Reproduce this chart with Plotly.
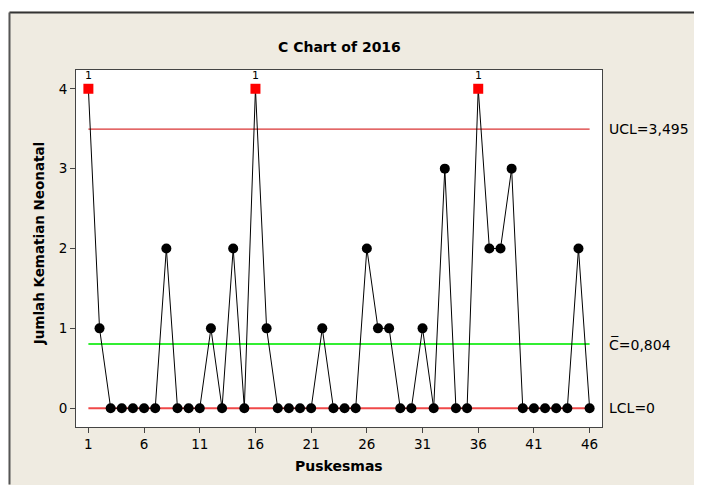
import plotly.graph_objects as go

# ---- data ----
samples = list(range(1, 47))
counts = [4, 1, 0, 0, 0, 0, 0, 2, 0, 0,
          0, 1, 0, 2, 0, 4, 1, 0, 0, 0,
          0, 1, 0, 0, 0, 2, 1, 1, 0, 0,
          1, 0, 3, 0, 0, 4, 2, 2, 3, 0,
          0, 0, 0, 0, 2, 0]
ucl = 3.495
center = 0.804
lcl = 0.0
x_ticks = [1, 6, 11, 16, 21, 26, 31, 36, 41, 46]
y_ticks = [0, 1, 2, 3, 4]
ucl_label = "UCL=3,495"
cl_label = "C\u0305=0,804"
lcl_label = "LCL=0"
title = "C Chart of 2016"
x_title = "Puskesmas"
y_title = "Jumlah Kematian Neonatal"

FONT = "DejaVu Sans, sans-serif"
# page is offset by the 8px body margin; work in figure pixels
OFF = 8
W, H = 702 - OFF, 485 - OFF
ML = 76 - OFF
MR = W - (602 - OFF)
MT = 70 - OFF
MB = H - (427.5 - OFF)
PW = W - ML - MR
PH = H - MT - MB

def px_x(p):  # page x -> paper fraction
    return (p - OFF - ML) / PW

def px_y(p):  # page y -> paper fraction
    return (H - MB - (p - OFF)) / PH

out_x = [s for s, c in zip(samples, counts) if c > ucl or c < lcl]
out_y = [c for c in counts if c > ucl or c < lcl]
in_x = [s for s, c in zip(samples, counts) if not (c > ucl or c < lcl)]
in_y = [c for c in counts if not (c > ucl or c < lcl)]

fig = go.Figure()
xr = [samples[0], samples[-1]]
fig.add_trace(go.Scatter(x=xr, y=[ucl, ucl], mode="lines",
                         line=dict(color="#D00000", width=1), hoverinfo="skip"))
fig.add_trace(go.Scatter(x=xr, y=[center, center], mode="lines",
                         line=dict(color="#33EE33", width=2), hoverinfo="skip"))
fig.add_trace(go.Scatter(x=xr, y=[lcl, lcl], mode="lines",
                         line=dict(color="#F04848", width=2), hoverinfo="skip"))
fig.add_trace(go.Scatter(x=samples, y=counts, mode="lines",
                         line=dict(color="black", width=1)))
fig.add_trace(go.Scatter(x=in_x, y=in_y, mode="markers",
                         marker=dict(color="black", size=10, symbol="circle")))
fig.add_trace(go.Scatter(x=out_x, y=out_y, mode="markers",
                         marker=dict(color="#FF0000", size=10, symbol="square")))

annotations = []
for x, y in zip(out_x, out_y):
    annotations.append(dict(x=x, y=y, xref="x", yref="y", text="1", showarrow=False,
                            yshift=13, font=dict(family=FONT, size=11, color="black")))
for val, lab in [(ucl, ucl_label), (center, cl_label), (lcl, lcl_label)]:
    annotations.append(dict(x=1, y=val, xref="paper", yref="y", text=lab, showarrow=False,
                            xanchor="left", xshift=5, yanchor="middle",
                            font=dict(family=FONT, size=14, color="black")))
annotations.append(dict(x=px_x(339), y=px_y(47), xref="paper", yref="paper", text="<b>" + title + "</b>",
                        showarrow=False, xanchor="center", yanchor="middle",
                        font=dict(family=FONT, size=14, color="black")))
annotations.append(dict(x=px_x(338.5), y=px_y(467), xref="paper", yref="paper", text="<b>" + x_title + "</b>",
                        showarrow=False, xanchor="center", yanchor="middle",
                        font=dict(family=FONT, size=14, color="black")))
annotations.append(dict(x=px_x(39), y=px_y(244.5), xref="paper", yref="paper", text="<b>" + y_title + "</b>",
                        showarrow=False, xanchor="center", yanchor="middle", textangle=-90,
                        font=dict(family=FONT, size=13.5, color="black")))

shapes = [
    # white strips outside the frame
    dict(type="rect", xref="paper", yref="paper", x0=px_x(0), x1=px_x(710), y0=px_y(11.5), y1=px_y(0),
         fillcolor="white", line=dict(width=0), layer="above"),
    dict(type="rect", xref="paper", yref="paper", x0=px_x(0), x1=px_x(8.7), y0=px_y(490), y1=px_y(0),
         fillcolor="white", line=dict(width=0), layer="above"),
    # frame lines
    dict(type="line", xref="paper", yref="paper", x0=px_x(9.5), x1=px_x(702), y0=px_y(12.5), y1=px_y(12.5),
         line=dict(color="#333333", width=2), layer="above"),
    dict(type="line", xref="paper", yref="paper", x0=px_x(9.5), x1=px_x(9.5), y0=px_y(485), y1=px_y(12.5),
         line=dict(color="#555555", width=2), layer="above"),
]

dx = 13 / (PW / 45)
fig.update_layout(
    width=W, height=H,
    margin=dict(l=ML, r=MR, t=MT, b=MB, autoexpand=False),
    paper_bgcolor="#EFEBE1",
    plot_bgcolor="white",
    showlegend=False,
    annotations=annotations,
    shapes=shapes,
    font=dict(family=FONT, size=13, color="black"),
    xaxis=dict(range=[1 - dx, 46 + dx], tickvals=x_ticks, ticktext=[str(v) for v in x_ticks],
               showgrid=False, zeroline=False, showline=True, linecolor="#444444", linewidth=1,
               mirror=True, ticks="outside", ticklen=5, tickcolor="#444444",
               tickfont=dict(family=FONT, size=13.5)),
    yaxis=dict(range=[-0.235, 4.235], tickvals=y_ticks, ticktext=[str(v) for v in y_ticks],
               showgrid=False, zeroline=False, showline=True, linecolor="#444444", linewidth=1,
               mirror=True, ticks="outside", ticklen=5, tickcolor="#444444",
               tickfont=dict(family=FONT, size=13.5)),
)

fig.write_html("out.html")
